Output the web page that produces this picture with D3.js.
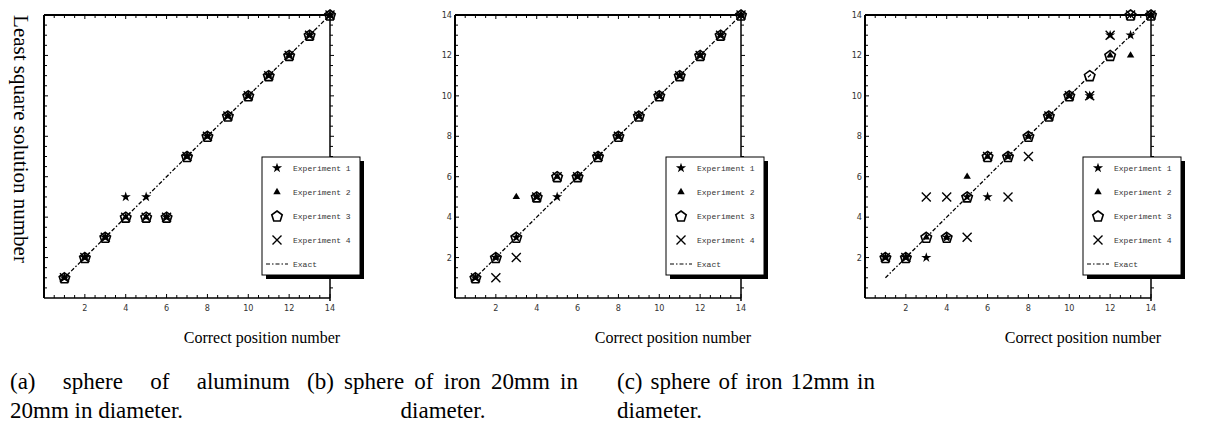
<!DOCTYPE html>
<html>
<head>
<meta charset="utf-8">
<script src="https://cdn.jsdelivr.net/npm/d3@7"></script>
<style>
  body { margin: 0; background: #fff; }
  svg { display: block; }
</style>
</head>
<body>
<svg id="chart" width="1221" height="430"></svg>
<script>
// Correct position numbers (x) shared by all panels
const positions = [1, 2, 3, 4, 5, 6, 7, 8, 9, 10, 11, 12, 13, 14];
const tickLabels = [2, 4, 6, 8, 10, 12, 14];
const seriesNames = ["Experiment 1", "Experiment 2", "Experiment 3", "Experiment 4", "Exact"];

// (a) aluminum 20mm
const aExp1 = [1, 2, 3, 5, 5, 4, 7, 8, 9, 10, 11, 12, 13, 14];
const aExp2 = [1, 2, 3, 4, 4, 4, 7, 8, 9, 10, 11, 12, 13, 14];
const aExp3 = [1, 2, 3, 4, 4, 4, 7, 8, 9, 10, 11, 12, 13, 14];
const aExp4 = [1, 2, 3, 4, 4, 4, 7, 8, 9, 10, 11, 12, 13, 14];

// (b) iron 20mm
const bExp1 = [1, 2, 3, 5, 5, 6, 7, 8, 9, 10, 11, 12, 13, 14];
const bExp2 = [1, 2, 5, 5, 6, 6, 7, 8, 9, 10, 11, 12, 13, 14];
const bExp3 = [1, 2, 3, 5, 6, 6, 7, 8, 9, 10, 11, 12, 13, 14];
const bExp4 = [1, 1, 2, 5, 6, 6, 7, 8, 9, 10, 11, 12, 13, 14];

// (c) iron 12mm
const cExp1 = [2, 2, 2, 3, 5, 5, 7, 8, 9, 10, 10, 13, 13, 14];
const cExp2 = [2, 2, 3, 3, 6, 7, 7, 8, 9, 10, 10, 12, 12, 14];
const cExp3 = [2, 2, 3, 3, 5, 7, 7, 8, 9, 10, 11, 12, 14, 14];
const cExp4 = [2, 2, 5, 5, 3, 7, 5, 7, 9, 10, 10, 13, 14, 14];

const exact = [1, 2, 3, 4, 5, 6, 7, 8, 9, 10, 11, 12, 13, 14];

const panels = [
    { left: 44,  legendX: 262,  series: [aExp1, aExp2, aExp3, aExp4], yLabels: false,
      caption: [{ text: "(a) sphere of aluminum", x: 10, x2: 290 }, { text: "20mm in diameter.", x: 10 }] },
    { left: 455, legendX: 666,  series: [bExp1, bExp2, bExp3, bExp4], yLabels: true,
      caption: [{ text: "(b) sphere of iron 20mm in", x: 307, x2: 578 }, { text: "diameter.", x: 443, anchor: "middle" }] },
    { left: 865, legendX: 1083, series: [cExp1, cExp2, cExp3, cExp4], yLabels: true,
      caption: [{ text: "(c) sphere of iron 12mm in", x: 617, x2: 875 }, { text: "diameter.", x: 617 }] }
];

const svg = d3.select("#chart");
const plotW = 286, plotTop = 15, plotBottom = 298;
const smallFont = "'Liberation Sans Narrow', 'DejaVu Sans Condensed', 'Liberation Sans', sans-serif";
const serif = "'Liberation Serif', 'Times New Roman', serif";

// marker drawing: 0 star, 1 triangle, 2 pentagon, 3 cross
function drawMarker(g, kind, x, y) {
    if (kind === 0) {
        g.append("path").attr("d", d3.symbol(d3.symbolStar, 32)())
            .attr("transform", `translate(${x},${y})`).attr("fill", "#000");
    } else if (kind === 1) {
        g.append("path").attr("d", d3.symbol(d3.symbolTriangle, 24)())
            .attr("transform", `translate(${x},${y})`).attr("fill", "#000");
    } else if (kind === 2) {
        const r = 5.5;
        const pts = d3.range(5).map(i => {
            const a = -Math.PI / 2 + i * 2 * Math.PI / 5;
            return [x + r * Math.cos(a), y + r * Math.sin(a) + 0.5];
        });
        g.append("polygon").attr("points", pts.map(p => p.join(",")).join(" "))
            .attr("fill", "none").attr("stroke", "#000").attr("stroke-width", 1.6);
    } else {
        const s = 4.5;
        g.append("path").attr("d", `M${x - s},${y - s}L${x + s},${y + s}M${x - s},${y + s}L${x + s},${y - s}`)
            .attr("stroke", "#000").attr("stroke-width", 1.4).attr("fill", "none");
    }
}

panels.forEach(function(p) {
    const x = d3.scaleLinear().domain([0, 14]).range([p.left, p.left + plotW]);
    const y = d3.scaleLinear().domain([0, 14]).range([plotBottom, plotTop]);
    const g = svg.append("g");

    // frame lines
    g.append("line").attr("x1", x(0)).attr("x2", x(14)).attr("y1", plotTop).attr("y2", plotTop)
        .attr("stroke", "#000").attr("stroke-width", 2);
    g.append("line").attr("x1", x(0)).attr("x2", x(14)).attr("y1", plotBottom).attr("y2", plotBottom)
        .attr("stroke", "#000").attr("stroke-width", 1.5);
    g.append("line").attr("x1", x(0)).attr("x2", x(0)).attr("y1", plotTop).attr("y2", plotBottom)
        .attr("stroke", "#000").attr("stroke-width", 2);
    g.append("line").attr("x1", x(14)).attr("x2", x(14)).attr("y1", plotTop - 1).attr("y2", plotBottom + 3)
        .attr("stroke", "#000").attr("stroke-width", 1.5);

    // minor ticks every half unit
    const ticks = d3.range(0, 28).map(i => i / 2 + 0.5);
    ticks.forEach(function(t) {
        const len = (t % 2 === 0) ? 4 : 3;
        g.append("line").attr("x1", x(t)).attr("x2", x(t)).attr("y1", plotTop).attr("y2", plotTop + len)
            .attr("stroke", "#000");
        g.append("line").attr("x1", x(t)).attr("x2", x(t)).attr("y1", plotBottom).attr("y2", plotBottom - len)
            .attr("stroke", "#000");
        g.append("line").attr("x1", x(0)).attr("x2", x(0) + len).attr("y1", y(t)).attr("y2", y(t))
            .attr("stroke", "#000");
        g.append("line").attr("x1", x(14)).attr("x2", x(14) + len).attr("y1", y(t)).attr("y2", y(t))
            .attr("stroke", "#000");
    });

    // tick labels
    g.selectAll(".xl").data(tickLabels).enter().append("text")
        .attr("x", d => x(d)).attr("y", plotBottom + 13)
        .attr("text-anchor", "middle")
        .attr("font-family", smallFont).attr("font-size", 9).attr("fill", "#333")
        .text(d => d);
    if (p.yLabels) {
        g.selectAll(".yl").data(tickLabels).enter().append("text")
            .attr("x", x(0) - 3).attr("y", d => y(d) + 3)
            .attr("text-anchor", "end")
            .attr("font-family", smallFont).attr("font-size", 9).attr("fill", "#333")
            .text(d => d);
    }

    // exact line
    const line = d3.line().x((d, i) => x(positions[i])).y(d => y(d));
    g.append("path").datum(exact).attr("d", line)
        .attr("fill", "none").attr("stroke", "#000").attr("stroke-width", 1.3)
        .attr("stroke-dasharray", "4,2,1.5,2");

    // experiments
    p.series.forEach(function(vals, k) {
        vals.forEach(function(v, i) {
            drawMarker(g, k, x(positions[i]), y(v));
        });
    });

    // legend
    const lx = p.legendX, ly = 157, lw = 98, lh = 118;
    g.append("rect").attr("x", lx + 4).attr("y", ly + 4).attr("width", lw).attr("height", lh).attr("fill", "#000");
    g.append("rect").attr("x", lx).attr("y", ly).attr("width", lw).attr("height", lh)
        .attr("fill", "#fff").attr("stroke", "#000").attr("stroke-width", 1);
    seriesNames.forEach(function(name, k) {
        const ry = ly + 11 + k * 24;
        if (k < 4) {
            drawMarker(g, k, lx + 15, ry);
        } else {
            g.append("line").attr("x1", lx + 4).attr("x2", lx + 26).attr("y1", ry).attr("y2", ry)
                .attr("stroke", "#000").attr("stroke-width", 1.2).attr("stroke-dasharray", "4,2,1.5,2");
        }
        g.append("text").attr("x", lx + 31).attr("y", ry + 3)
            .attr("font-family", "'Liberation Mono', 'DejaVu Sans Mono', monospace")
            .attr("font-size", 8).attr("fill", "#333")
            .text(name);
    });

    // x title
    g.append("text").attr("x", p.left + 218).attr("y", 343)
        .attr("text-anchor", "middle")
        .attr("font-family", serif).attr("font-size", 16)
        .text("Correct position number");

    // caption (first line justified word by word)
    p.caption.forEach(function(c, i) {
        const yy = 389 + i * 29;
        if (c.x2) {
            const words = c.text.split(" ");
            const nodes = words.map(w => g.append("text").attr("y", yy)
                .attr("font-family", serif).attr("font-size", 23).text(w));
            const widths = nodes.map(n => n.node().getComputedTextLength());
            const gap = (c.x2 - c.x - d3.sum(widths)) / (words.length - 1);
            let cx = c.x;
            nodes.forEach(function(n, j) {
                n.attr("x", cx);
                cx += widths[j] + gap;
            });
        } else {
            g.append("text").attr("x", c.x).attr("y", yy)
                .attr("font-family", serif).attr("font-size", 23)
                .attr("text-anchor", c.anchor || "start")
                .text(c.text);
        }
    });
});

// y title on first panel
svg.append("text")
    .attr("transform", "translate(14,139) rotate(90)")
    .attr("text-anchor", "middle")
    .attr("font-family", serif).attr("font-size", 21)
    .text("Least square solution number");
</script>
</body>
</html>
